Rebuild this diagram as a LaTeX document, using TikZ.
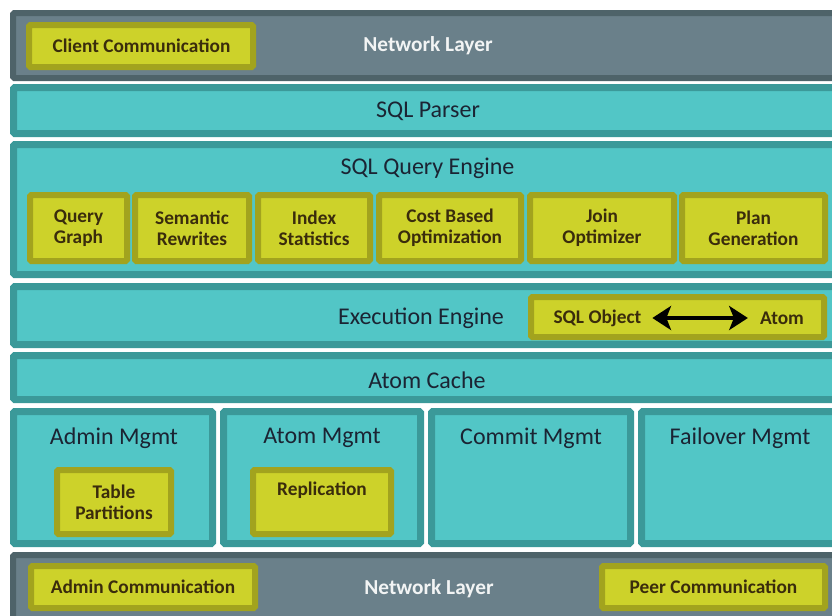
\documentclass[tikz,border=0pt]{standalone}
\usepackage{fontspec}
\setmainfont{Carlito}
\usetikzlibrary{fit,arrows.meta}
\definecolor{tealfill}{HTML}{52C6C6}
\definecolor{tealedge}{HTML}{3B9999}
\definecolor{slatefill}{HTML}{6A808A}
\definecolor{slateedge}{HTML}{4E6369}
\definecolor{yelfill}{HTML}{CDD22A}
\definecolor{yeledge}{HTML}{A2A31E}
\definecolor{maintext}{HTML}{1B2433}
\definecolor{subtext}{HTML}{3A2C0C}
\definecolor{nettext}{HTML}{F2F4F4}
\begin{document}
\begin{tikzpicture}[x=0.75pt,y=-0.75pt,
  layerbox/.style={draw=tealedge, fill=tealfill, line width=5.25pt, inner sep=0pt, outer sep=0pt, rounded corners=1pt},
  netbox/.style={draw=slateedge, fill=slatefill, line width=4.5pt, inner sep=0pt, outer sep=0pt, rounded corners=1pt},
  subbox/.style={draw=yeledge, fill=yelfill, line width=4.5pt, inner sep=0pt, outer sep=0pt, rounded corners=1pt},
  maintitle/.style={font=\fontsize{18pt}{21pt}\selectfont, text=maintext, inner sep=0pt},
  nettitle/.style={font=\fontsize{16pt}{19pt}\selectfont\bfseries, text=nettext, inner sep=0pt},
  subtitle/.style={font=\fontsize{14.5pt}{15.5pt}\selectfont\bfseries, text=subtext, inner sep=0pt, align=center},
  bigarrow/.style={line width=3.7pt, >={Stealth[length=14pt,width=18pt,inset=3.5pt]}, <->}
]
\useasboundingbox (0,0) rectangle (832,615);
\clip (0,0) rectangle (832,615);
\fill[white] (0,0) rectangle (832,615);

% top network layer
\node[netbox, fit={(13,13) (847,78)}] (net1) {};
\node[subbox, fit={(29,25) (253,67)}] (client) {};
\node[subtitle] (clienttxt) at (141.5,46) {Client Communication};
\node[nettitle] (net1txt) at (428,46) {Network Layer};

% SQL parser
\node[layerbox, fit={(13.5,87.5) (846.5,133.5)}] (parser) {};
\node[maintitle] (parsertxt) at (428,111) {SQL Parser};

% SQL query engine
\node[layerbox, fit={(13.5,144.5) (846.5,274.5)}] (qe) {};
\node[maintitle] (qetxt) at (427.5,168) {SQL Query Engine};
\node[subbox, fit={(30,195) (127,261)}] (qg) {};
\node[subtitle] (qgtxt) at (qg.center) {Query\\Graph};
\node[subbox, fit={(135,195) (249,261)}] (sr) {};
\node[subtitle] (srtxt) at (sr.center) {Semantic\\Rewrites};
\node[subbox, fit={(258,195) (370,261)}] (ist) {};
\node[subtitle] (isttxt) at (ist.center) {Index\\Statistics};
\node[subbox, fit={(379,195) (521,261)}] (cbo) {};
\node[subtitle] (cbotxt) at (cbo.center) {Cost Based\\Optimization};
\node[subbox, fit={(530,195) (674,261)}] (jo) {};
\node[subtitle] (jotxt) at (jo.center) {Join\\Optimizer};
\node[subbox, fit={(682,195) (825,261)}] (pg) {};
\node[subtitle] (pgtxt) at (pg.center) {Plan\\Generation};

% execution engine
\node[layerbox, fit={(13.5,286.5) (846.5,344.5)}] (exec) {};
\node[maintitle] (exectxt) at (421,318) {Execution Engine};
\node[subbox, fit={(531,297) (824,337)}] (sqlobj) {};
\node[subtitle] (sotxt) at (597.5,318) {SQL Object};
\node[subtitle] (atomtxt) at (782,318) {Atom};
\draw[bigarrow, shorten <=8pt, shorten >=9pt] (sotxt.east) -- (atomtxt.west);

% atom cache
\node[layerbox, fit={(13.5,355.5) (846.5,399.5)}] (cache) {};
\node[maintitle] (cachetxt) at (427,380) {Atom Cache};

% management row
\node[layerbox, fit={(13.5,411.5) (212.5,543.5)}] (admin) {};
\node[maintitle] (admintxt) at (114,438) {Admin Mgmt};
\node[subbox, fit={(57,470) (171,534)}] (tp) {};
\node[subtitle] (tptxt) at (114,502) {Table\\Partitions};

\node[layerbox, fit={(223.5,411.5) (420.5,543.5)}] (atomm) {};
\node[maintitle] (atommtxt) at (322,438) {Atom Mgmt};
\node[subbox, fit={(253,470) (391,534)}] (rep) {};
\node[subtitle] (reptxt) at (322,490) {Replication};

\node[layerbox, fit={(431.5,411.5) (630.5,543.5)}] (commit) {};
\node[maintitle] (committxt) at (531,438) {Commit Mgmt};

\node[layerbox, fit={(641.5,411.5) (846.5,543.5)}] (failover) {};
\node[maintitle] (failtxt) at (740,438) {Failover Mgmt};

% bottom network layer
\node[netbox, fit={(13,555) (847,637)}] (net2) {};
\node[subbox, fit={(31,566) (255,608)}] (admcomm) {};
\node[subtitle] (admcommtxt) at (admcomm.center) {Admin Communication};
\node[subbox, fit={(602,566) (825,608)}] (peer) {};
\node[subtitle] (peertxt) at (peer.center) {Peer Communication};
\node[nettitle] (net2txt) at (429,589) {Network Layer};
\end{tikzpicture}
\end{document}
